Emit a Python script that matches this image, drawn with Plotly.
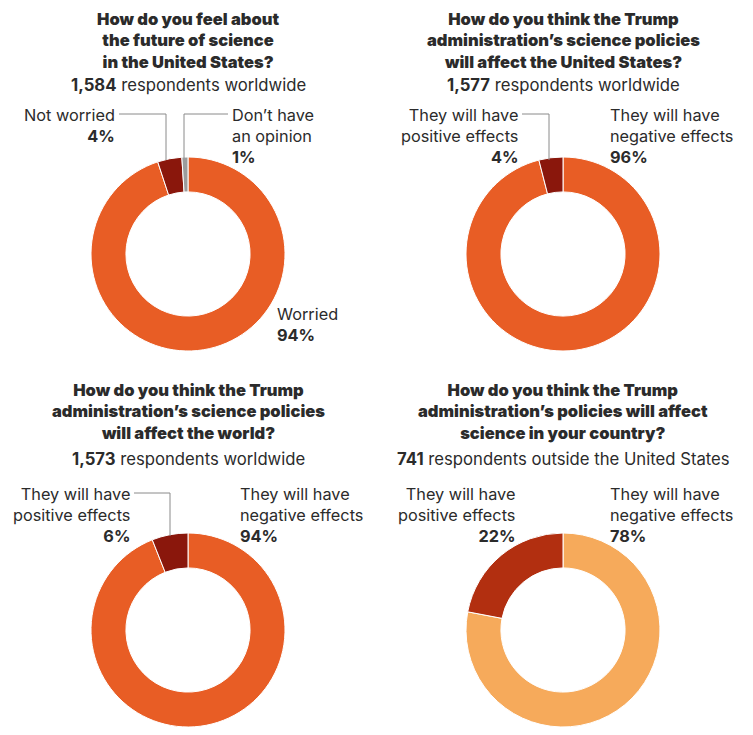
import plotly.graph_objects as go

W, H = 753, 735
OFF = 8  # page body margin

# Survey data
titles = [
    "How do you feel about<br>the future of science<br>in the United States?",
    "How do you think the Trump<br>administration’s science policies<br>will affect the United States?",
    "How do you think the Trump<br>administration’s science policies<br>will affect the world?",
    "How do you think the Trump<br>administration’s policies will affect<br>science in your country?",
]
respondents = ["1,584", "1,577", "1,573", "741"]
respondent_text = ["respondents worldwide", "respondents worldwide",
                   "respondents worldwide", "respondents outside the United States"]

labels_1 = ["Worried", "Not worried", "Don’t have an opinion"]
values_1 = [94, 4, 1]
labels_2 = ["They will have negative effects", "They will have positive effects"]
values_2 = [96, 4]
labels_3 = ["They will have negative effects", "They will have positive effects"]
values_3 = [94, 6]
labels_4 = ["They will have negative effects", "They will have positive effects"]
values_4 = [78, 22]

ORANGE = "#E85D25"
DARKRED = "#8A170C"
GREY = "#9C9C9C"
LIGHT = "#F6AA5B"
RUST = "#B22F10"
colors = [[ORANGE, DARKRED, GREY], [ORANGE, DARKRED], [ORANGE, DARKRED], [LIGHT, RUST]]

FONT = "Inter"
TXT = "#2b2b2b"


def px(x):
    return (x - OFF) / W


def py(y):
    return 1 - (y - OFF) / H


centers = [(188, 254), (563, 254), (188, 630), (563, 630)]
R = 97

fig = go.Figure()
for (lab, val), col, (cx, cy) in zip(
        [(labels_1, values_1), (labels_2, values_2), (labels_3, values_3), (labels_4, values_4)],
        colors, centers):
    fig.add_trace(go.Pie(
        labels=lab, values=val, hole=0.64, sort=False, direction="clockwise",
        textinfo="none", hoverinfo="label+percent",
        marker=dict(colors=col, line=dict(color="white", width=1)),
        domain=dict(x=[px(cx - R), px(cx + R)], y=[py(cy + R), py(cy - R)]),
    ))

annotations = []


def note(x, y, text, xanchor="center", size=16.3, yanchor="middle", weight=None, pad=1):
    f = dict(family=FONT, size=size, color=TXT)
    if weight:
        f["weight"] = weight
    annotations.append(dict(
        x=px(x), y=py(y), xref="paper", yref="paper", text=text,
        showarrow=False, xanchor=xanchor, yanchor=yanchor, borderpad=pad,
        align=xanchor if xanchor != "center" else "center",
        font=f,
    ))


# titles and respondent counts
title_tops = [OFF, OFF, 379, 379]
sub_y = [85, 85, 459, 459]
for t, n, r, (cx, cy), top, sy in zip(titles, respondents, respondent_text, centers, title_tops, sub_y):
    note(cx, top, t, size=16.5, yanchor="top", weight=900, pad=0)
    note(cx, sy, "<b>" + n + "</b> " + r, size=16.7)

# slice labels
note(117, 103, "Not worried<br><b>4%</b>", xanchor="right", yanchor="top")
note(230, 103, "Don’t have<br>an opinion<br><b>1%</b>", xanchor="left", yanchor="top")
note(275, 302, "Worried<br><b>94%</b>", xanchor="left", yanchor="top")

note(520, 103, "They will have<br>positive effects<br><b>4%</b>", xanchor="right", yanchor="top")
note(608, 103, "They will have<br>negative effects<br><b>96%</b>", xanchor="left", yanchor="top")

note(132, 482, "They will have<br>positive effects<br><b>6%</b>", xanchor="right", yanchor="top")
note(238, 482, "They will have<br>negative effects<br><b>94%</b>", xanchor="left", yanchor="top")

note(517, 482, "They will have<br>positive effects<br><b>22%</b>", xanchor="right", yanchor="top")
note(608, 482, "They will have<br>negative effects<br><b>78%</b>", xanchor="left", yanchor="top")

# leader lines
leaders = [
    [(119, 114), (166, 114), (166, 160)],
    [(228, 114), (184, 114), (184, 158)],
    [(522, 114), (549, 114), (549, 160)],
    [(134, 493), (170, 493), (170, 536)],
]
shapes = []
for pts in leaders:
    path = "M " + " L ".join(f"{px(x)},{py(y)}" for x, y in pts)
    shapes.append(dict(type="path", path=path, xref="paper", yref="paper",
                       line=dict(color="#8a8a8a", width=1)))

fig.update_layout(
    width=W, height=H,
    margin=dict(l=0, r=0, t=0, b=0),
    paper_bgcolor="white", plot_bgcolor="white",
    showlegend=False,
    annotations=annotations,
    shapes=shapes,
)

fig.write_html("out.html")
